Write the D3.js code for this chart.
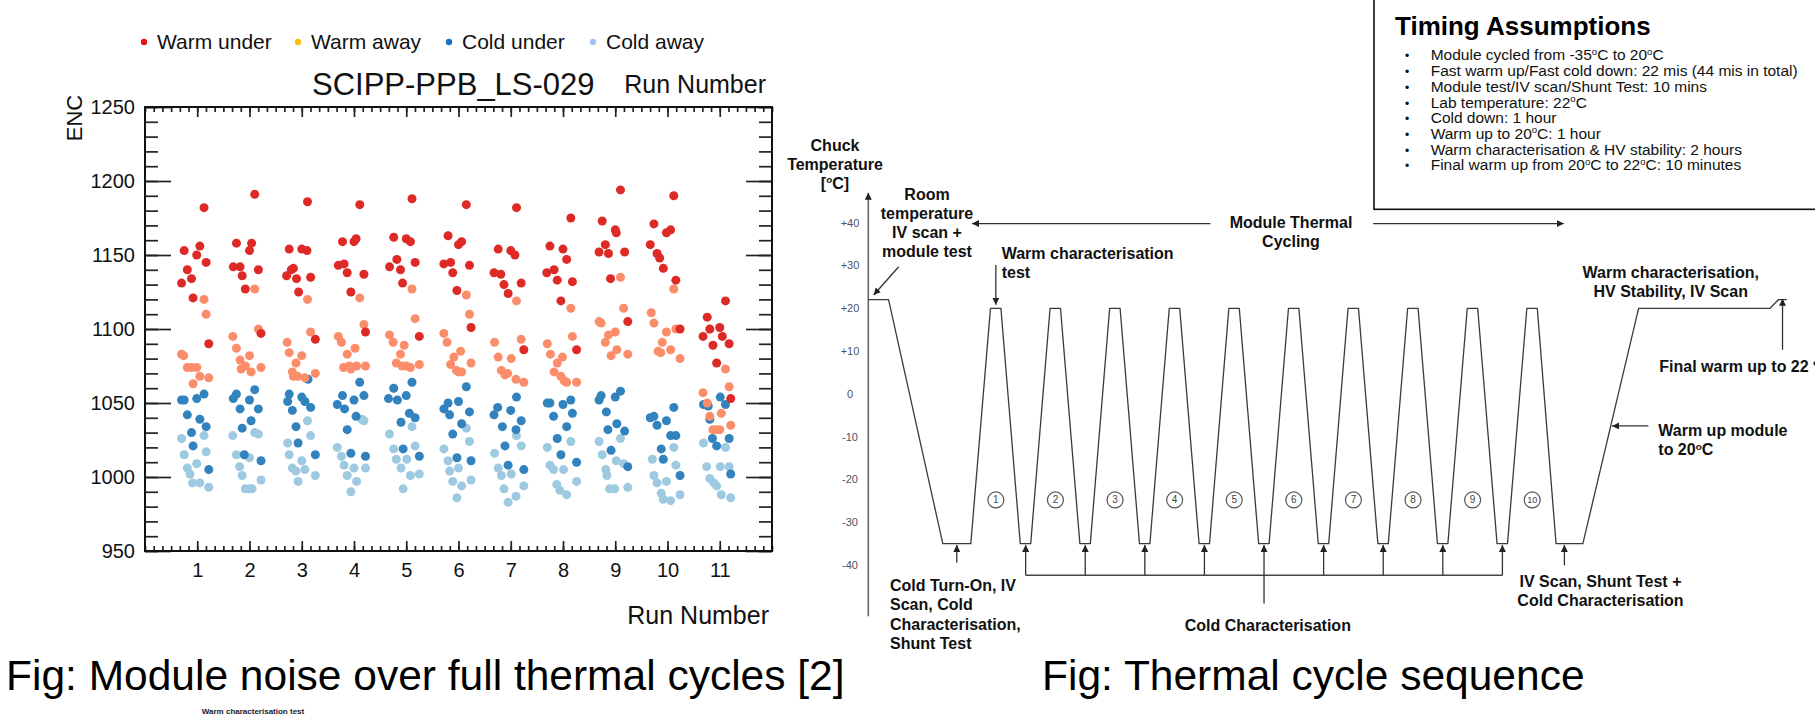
<!DOCTYPE html>
<html>
<head>
<meta charset="utf-8">
<title>module noise and thermal cycle</title>
<style>
  body { margin: 0; background: #fff; }
  svg { display: block; font-family: "Liberation Sans", Arial, sans-serif; }
</style>
</head>
<body>
<svg width="1815" height="718"></svg>
<script src="https://d3js.org/d3.v7.min.js"></script>
<script>

// ---------- left chart data : [run position, ENC] ----------
var warmUnder = [
  [0.70,1131],[0.75,1153],[0.81,1140],[0.89,1134],[0.92,1121],[0.99,1150],[1.05,1156],[1.13,1182],[1.17,1145],[1.22,1090],
  [1.69,1142],[1.75,1158],[1.82,1142],[1.86,1136],[1.92,1127],[2.00,1153],[2.04,1158],[2.10,1191],[2.17,1140],[2.22,1097],
  [2.71,1136],[2.76,1154],[2.80,1140],[2.84,1141],[2.90,1134],[2.94,1125],[3.00,1154],[3.10,1153],[3.11,1186],[3.17,1135],[3.26,1093],
  [3.70,1143],[3.78,1159],[3.81,1144],[3.87,1138],[3.94,1125],[4.00,1159],[4.04,1161],[4.11,1184],[4.19,1137],[4.22,1098],
  [4.68,1142],[4.76,1162],[4.82,1147],[4.89,1140],[4.93,1131],[5.00,1161],[5.08,1159],[5.11,1188],[5.17,1145],[5.25,1095],
  [5.72,1144],[5.80,1163],[5.85,1145],[5.89,1138],[5.97,1126],[6.00,1157],[6.06,1159],[6.15,1184],[6.21,1143],[6.24,1101],
  [6.68,1138],[6.76,1154],[6.81,1137],[6.87,1130],[6.95,1124],[7.00,1153],[7.08,1150],[7.11,1182],[7.20,1131],[7.25,1086],
  [7.69,1138],[7.75,1156],[7.83,1140],[7.89,1133],[7.96,1119],[8.00,1154],[8.07,1147],[8.15,1175],[8.18,1132],[8.26,1086],
  [8.69,1152],[8.75,1173],[8.81,1157],[8.87,1151],[8.91,1134],[9.00,1167],[9.02,1165],[9.10,1194],[9.18,1152],[9.24,1105],
  [9.67,1157],[9.74,1171],[9.80,1151],[9.85,1148],[9.92,1141],[9.98,1165],[10.06,1167],[10.12,1190],[10.16,1133],[10.24,1100],
  [10.68,1095],[10.76,1108],[10.81,1100],[10.87,1089],[10.94,1077],[11.00,1101],[11.05,1095],[11.11,1119],[11.18,1090],[11.21,1053]
];
var warmAway = [
  [0.70,1083],[0.74,1082],[0.81,1074],[0.89,1074],[0.92,1063],[0.99,1074],[1.05,1068],[1.13,1120],[1.17,1110],[1.22,1067],
  [1.68,1095],[1.75,1087],[1.82,1079],[1.84,1073],[1.92,1075],[2.00,1082],[2.03,1071],[2.10,1127],[2.17,1100],[2.22,1074],
  [2.72,1091],[2.76,1084],[2.82,1071],[2.84,1068],[2.89,1077],[2.92,1068],[3.00,1082],[3.06,1067],[3.11,1120],[3.17,1098],[3.26,1070],
  [3.70,1095],[3.76,1091],[3.80,1074],[3.87,1083],[3.91,1075],[3.94,1073],[4.02,1087],[4.05,1075],[4.11,1121],[4.19,1103],[4.22,1075],
  [4.68,1096],[4.75,1091],[4.81,1077],[4.89,1083],[4.92,1075],[4.96,1089],[5.00,1075],[5.08,1074],[5.11,1127],[5.17,1107],[5.25,1076],
  [5.72,1097],[5.78,1091],[5.85,1076],[5.91,1081],[5.96,1072],[6.00,1071],[6.04,1085],[6.06,1071],[6.15,1123],[6.21,1110],[6.24,1077],
  [6.69,1091],[6.76,1081],[6.82,1072],[6.89,1069],[6.94,1070],[7.01,1080],[7.10,1066],[7.11,1119],[7.20,1093],[7.25,1064],
  [7.70,1090],[7.76,1083],[7.83,1071],[7.89,1077],[7.96,1068],[7.99,1081],[8.02,1065],[8.07,1064],[8.15,1114],[8.18,1095],[8.26,1064],
  [8.69,1105],[8.73,1104],[8.81,1091],[8.87,1096],[8.92,1082],[9.00,1098],[9.03,1086],[9.10,1135],[9.16,1114],[9.24,1083],
  [9.69,1111],[9.74,1104],[9.82,1085],[9.87,1084],[9.90,1091],[9.98,1098],[10.06,1086],[10.12,1127],[10.16,1100],[10.24,1080],
  [10.68,1057],[10.76,1050],[10.81,1041],[10.87,1032],[10.94,1032],[11.00,1032],[11.03,1043],[11.11,1073],[11.18,1061],[11.21,1035]
];
var coldUnder = [
  [0.70,1052],[0.75,1052],[0.81,1042],[0.89,1030],[0.92,1021],[0.99,1053],[1.05,1039],[1.13,1056],[1.17,1034],[1.22,1005],
  [1.69,1053],[1.75,1056],[1.82,1046],[1.86,1033],[1.90,1015],[2.00,1052],[2.03,1038],[2.10,1059],[2.17,1046],[2.22,1011],
  [2.73,1051],[2.76,1056],[2.82,1045],[2.89,1034],[2.93,1023],[3.00,1054],[3.06,1051],[3.12,1066],[3.17,1047],[3.26,1015],
  [3.68,1049],[3.78,1055],[3.82,1046],[3.87,1032],[3.94,1016],[4.00,1052],[4.04,1041],[4.11,1064],[4.19,1055],[4.22,1014],
  [4.66,1053],[4.76,1060],[4.83,1052],[4.90,1037],[4.94,1019],[5.00,1055],[5.06,1043],[5.11,1064],[5.17,1040],[5.25,1014],
  [5.72,1046],[5.80,1050],[5.83,1042],[5.89,1029],[5.97,1013],[6.00,1051],[6.06,1036],[6.15,1061],[6.21,1044],[6.24,1011],
  [6.68,1042],[6.75,1047],[6.84,1034],[6.89,1021],[6.95,1008],[7.00,1045],[7.10,1032],[7.11,1054],[7.20,1038],[7.25,1005],
  [7.70,1050],[7.75,1050],[7.82,1041],[7.89,1026],[7.96,1015],[8.00,1049],[8.07,1034],[8.15,1052],[8.18,1043],[8.26,1010],
  [8.69,1052],[8.73,1055],[8.83,1044],[8.86,1032],[8.92,1018],[9.00,1054],[9.03,1036],[9.10,1058],[9.18,1031],[9.24,1007],
  [9.67,1040],[9.74,1041],[9.80,1035],[9.88,1019],[9.92,1012],[9.98,1038],[10.06,1028],[10.12,1047],[10.16,1028],[10.24,1001],
  [10.69,1049],[10.78,1048],[10.81,1039],[10.86,1026],[10.94,1021],[11.01,1054],[11.11,1049],[11.18,1026],[11.21,1002]
];
var coldAway = [
  [0.70,1026],[0.75,1015],[0.81,1006],[0.86,1002],[0.91,996],[0.99,1009],[1.05,996],[1.13,1028],[1.17,1017],[1.22,993],
  [1.68,1028],[1.75,1015],[1.81,1007],[1.86,1001],[1.92,992],[2.00,992],[2.05,992],[2.00,1013],[2.10,1030],[2.17,1029],[2.22,998],
  [2.73,1023],[2.76,1015],[2.82,1006],[2.89,1004],[2.93,997],[3.00,1011],[3.06,1005],[3.11,1038],[3.17,1028],[3.26,1001],
  [3.68,1020],[3.76,1014],[3.81,1008],[3.87,1001],[3.94,990],[4.00,1006],[4.05,997],[4.15,1039],[4.19,1038],[4.22,1006],
  [4.68,1029],[4.76,1019],[4.81,1012],[4.90,1006],[4.94,992],[5.01,1012],[5.08,1001],[5.11,1034],[5.17,1021],[5.25,1002],
  [5.72,1019],[5.80,1011],[5.83,1004],[5.89,997],[5.97,986],[6.00,1006],[6.06,994],[6.15,1033],[6.21,1024],[6.24,998],
  [6.69,1016],[6.76,1006],[6.82,1001],[6.87,992],[6.95,983],[7.01,1002],[7.10,987],[7.11,1028],[7.20,1021],[7.25,994],
  [7.70,1020],[7.75,1008],[7.82,1005],[7.88,995],[7.94,991],[8.01,1005],[8.07,988],[8.15,1024],[8.26,997],
  [8.69,1024],[8.75,1015],[8.82,1005],[8.84,1001],[8.89,992],[8.99,992],[9.02,1011],[9.10,1026],[9.16,1009],[9.24,993],
  [9.71,1012],[9.74,1001],[9.80,996],[9.88,989],[9.92,985],[9.98,997],[10.06,984],[10.12,1020],[10.16,1008],[10.24,988],
  [10.69,1023],[10.75,1007],[10.81,999],[10.89,996],[10.94,994],[11.01,1007],[11.03,988],[11.11,1020],[11.18,1007],[11.21,986]
];
var runTicks = [1, 2, 3, 4, 5, 6, 7, 8, 9, 10, 11];
var encTicks = [950, 1000, 1050, 1100, 1150, 1200, 1250];
var legendNames = ["Warm under", "Warm away", "Cold under", "Cold away"];

// ---------- right diagram data : time (arbitrary steps) vs chuck temperature ----------
var profileTime = [0, 3.4, 12.5, 17.2,
  20.5, 22.25, 25.5, 27.25,   30.5, 32.25, 35.5, 37.25,   40.5, 42.25, 45.5, 47.25,
  50.5, 52.25, 55.5, 57.25,   60.5, 62.25, 65.5, 67.25,   70.5, 72.25, 75.5, 77.25,
  80.5, 82.25, 85.5, 87.25,   90.5, 92.25, 95.5, 97.25,   100.5, 102.25, 105.5, 107.25,
  110.5, 112.25, 115.4, 119.9,
  129.25, 151.3, 152.7, 154.1];
var profileTemp = [22, 22, -35, -35,
  20, 20, -35, -35,   20, 20, -35, -35,   20, 20, -35, -35,
  20, 20, -35, -35,   20, 20, -35, -35,   20, 20, -35, -35,
  20, 20, -35, -35,   20, 20, -35, -35,   20, 20, -35, -35,
  20, 20, -35, -35,
  20, 20, 22, 22];
var cycleTime = [21.4, 31.4, 41.4, 51.4, 61.4, 71.4, 81.4, 91.4, 101.4, 111.4];
var cycleLabels = ["1", "2", "3", "4", "5", "6", "7", "8", "9", "10"];
var coldCharTime = [26.4, 36.4, 46.4, 56.4, 66.4, 76.4, 86.4, 96.4, 106.4];
var tempTicks = [40, 30, 20, 10, 0, -10, -20, -30, -40];
var tempTickLabels = ["+40", "+30", "+20", "+10", "0", "-10", "-20", "-30", "-40"];
var timingItems = [
  "Module cycled from -35°C to 20°C",
  "Fast warm up/Fast cold down: 22 mis (44 mis in total)",
  "Module test/IV scan/Shunt Test: 10 mins",
  "Lab temperature: 22°C",
  "Cold down: 1 hour",
  "Warm up to 20°C: 1 hour",
  "Warm characterisation & HV stability: 2 hours",
  "Final warm up from 20°C to 22°C: 10 minutes"
];

var svg = d3.select("svg");
svg.append("rect").attr("width", 1815).attr("height", 718).attr("fill", "#fff");

// text with a small raised "o" wherever the string has a degree sign
function rich(t, str, size) {
    var parts = str.split("°");
    t.append("tspan").text(parts[0]);
    for (var i = 1; i < parts.length; i++) {
        t.append("tspan").attr("font-size", size * 0.62).attr("dy", -size * 0.36).text("o");
        t.append("tspan").attr("dy", size * 0.36).text(parts[i]);
    }
    return t;
}

// ================= left : ENC scatter =================
var x = d3.scaleLinear().domain([0, 12]).range([145, 772]);
var y = d3.scaleLinear().domain([950, 1250]).range([551, 107]);

var left = svg.append("g");

function styleAxis(g) {
    g.select(".domain").remove();
    g.selectAll("line").attr("stroke", "#222").attr("stroke-width", 1.7);
    g.selectAll("text").attr("font-family", "'Liberation Sans', Arial, sans-serif")
        .attr("font-size", 20).attr("fill", "#111");
}

var minorX = d3.range(0, 12.001, 1 / 6), minorY = d3.range(950, 1250.1, 10);

left.append("g").attr("transform", "translate(0,551)")
    .call(d3.axisBottom(x).tickValues(minorX).tickSize(-5).tickFormat(""))
    .call(styleAxis);
left.append("g").attr("transform", "translate(0,551)")
    .call(d3.axisBottom(x).tickValues(runTicks).tickSize(-10).tickPadding(12).tickFormat(d3.format("d")))
    .call(styleAxis);
left.append("g").attr("transform", "translate(0,107)")
    .call(d3.axisTop(x).tickValues(minorX).tickSize(-5).tickFormat(""))
    .call(styleAxis);
left.append("g").attr("transform", "translate(0,107)")
    .call(d3.axisTop(x).tickValues(runTicks).tickSize(-10).tickFormat(""))
    .call(styleAxis);
left.append("g").attr("transform", "translate(145,0)")
    .call(d3.axisLeft(y).tickValues(minorY).tickSize(-13).tickFormat(""))
    .call(styleAxis);
left.append("g").attr("transform", "translate(145,0)")
    .call(d3.axisLeft(y).tickValues(encTicks).tickSize(-26).tickPadding(10).tickFormat(d3.format("d")))
    .call(styleAxis);
left.append("g").attr("transform", "translate(772,0)")
    .call(d3.axisRight(y).tickValues(minorY).tickSize(-13).tickFormat(""))
    .call(styleAxis);
left.append("g").attr("transform", "translate(772,0)")
    .call(d3.axisRight(y).tickValues(encTicks).tickSize(-26).tickFormat(""))
    .call(styleAxis);

left.append("rect").attr("x", 145).attr("y", 107).attr("width", 627).attr("height", 444)
    .attr("fill", "none").attr("stroke", "#111").attr("stroke-width", 2);

var series = [
    { data: coldAway, color: "#9ecae1" },
    { data: coldUnder, color: "#3182bd" },
    { data: warmAway, color: "#fc8d6a" },
    { data: warmUnder, color: "#de2a27" }
];
series.forEach(function (s) {
    left.append("g").selectAll("circle").data(s.data).enter().append("circle")
        .attr("cx", function (d) { return x(d[0]); })
        .attr("cy", function (d) { return y(d[1]); })
        .attr("r", 4.5)
        .attr("fill", s.color);
});

// legend
var legendColors = ["#e8141c", "#f9bd0d", "#1c6dc4", "#a3c5f3"];
var legendDotX = [144, 298, 449, 593];
legendNames.forEach(function (n, i) {
    left.append("circle").attr("cx", legendDotX[i]).attr("cy", 42).attr("r", 3.2).attr("fill", legendColors[i]);
    left.append("text").attr("x", legendDotX[i] + 13).attr("y", 49).attr("font-size", 21)
        .attr("fill", "#111").text(n);
});

left.append("text").attr("x", 312).attr("y", 95).attr("font-size", 31).attr("fill", "#111")
    .text("SCIPP-PPB_LS-029");
left.append("text").attr("x", 766).attr("y", 93).attr("text-anchor", "end").attr("font-size", 25)
    .attr("fill", "#111").text("Run Number");
left.append("text").attr("x", 769).attr("y", 624).attr("text-anchor", "end").attr("font-size", 25)
    .attr("fill", "#111").text("Run Number");
left.append("text").attr("transform", "translate(82,118) rotate(-90)").attr("text-anchor", "middle")
    .attr("font-size", 22).attr("fill", "#111").text("ENC");

// ================= right : thermal cycle sequence =================
var tx = d3.scaleLinear().domain([0, 154.1]).range([868.3, 1786.7]);
var ty = d3.scaleLinear().domain([-40, 40]).range([565, 222.7]);

var right = svg.append("g");
var defs = svg.append("defs");
defs.append("marker").attr("id", "arr").attr("viewBox", "0 0 10 10")
    .attr("refX", 10).attr("refY", 5).attr("markerWidth", 7).attr("markerHeight", 7)
    .attr("markerUnits", "userSpaceOnUse").attr("orient", "auto")
    .append("path").attr("d", "M0,0L10,5L0,10Z").attr("fill", "#222");

function arrow(t1, v1, t2, v2, head) {
    var l = right.append("line")
        .attr("x1", tx(t1)).attr("y1", ty(v1)).attr("x2", tx(t2)).attr("y2", ty(v2))
        .attr("stroke", "#333").attr("stroke-width", 1.3);
    if (head !== false) l.attr("marker-end", "url(#arr)");
    return l;
}

// temperature axis
right.append("line").attr("x1", tx(0)).attr("x2", tx(0)).attr("y1", ty(-52)).attr("y2", ty(47))
    .attr("stroke", "#666").attr("stroke-width", 1.6).attr("marker-end", "url(#arr)");
right.selectAll(".tlab").data(tempTicks).enter().append("text")
    .attr("x", 850).attr("y", function (d) { return ty(d) + 4; })
    .attr("text-anchor", "middle").attr("font-size", 11).attr("fill", "#4d5264")
    .text(function (d, i) { return tempTickLabels[i]; });

var prof = d3.line()
    .x(function (d) { return tx(d[0]); })
    .y(function (d) { return ty(d[1]); });
right.append("path")
    .datum(profileTime.map(function (t, i) { return [t, profileTemp[i]]; }))
    .attr("d", prof).attr("fill", "none").attr("stroke", "#3a3a3a").attr("stroke-width", 1.3)
    .attr("stroke-linejoin", "round");

// numbered cycles
cycleTime.forEach(function (t, i) {
    right.append("circle").attr("cx", tx(t)).attr("cy", ty(-24.8)).attr("r", 8)
        .attr("fill", "#fff").attr("stroke", "#555").attr("stroke-width", 1.2);
    right.append("text").attr("x", tx(t)).attr("y", ty(-24.8) + 3.5).attr("text-anchor", "middle")
        .attr("font-size", i === 9 ? 9 : 10).attr("fill", "#444").text(cycleLabels[i]);
});

// cold characterisation bracket
right.append("line").attr("x1", tx(coldCharTime[0])).attr("x2", tx(coldCharTime[8]))
    .attr("y1", ty(-42.4)).attr("y2", ty(-42.4)).attr("stroke", "#444").attr("stroke-width", 1.3);
coldCharTime.forEach(function (t) { arrow(t, -42.4, t, -35.3); });
arrow(66.4, -42.4, 66.4, -49, false);

arrow(14.85, -39.5, 14.85, -35.3);
arrow(116.8, -40.1, 116.8, -35.3);
arrow(5.1, 29.7, 0.9, 23.1);
arrow(21.4, 30.1, 21.4, 20.8);
arrow(57.4, 39.8, 17.4, 39.8);
arrow(84.7, 39.8, 116.7, 39.8);
arrow(153.4, 10.3, 153.4, 22.2);
arrow(130.9, -7.5, 124.8, -7.5);

function block(lines, xpos, y0, anchor) {
    lines.forEach(function (s, i) {
        var t = right.append("text").attr("x", xpos).attr("y", y0 + i * 19.3)
            .attr("text-anchor", anchor).attr("font-size", 16).attr("font-weight", "bold").attr("fill", "#111");
        rich(t, s, 16);
    });
}
block(["Chuck", "Temperature", "[°C]"], 835, 150.5, "middle");
block(["Room", "temperature", "IV scan +", "module test"], 927, 199.5, "middle");
block(["Module Thermal", "Cycling"], 1291, 228, "middle");
block(["Warm characterisation", "test"], 1001.7, 259, "start");
block(["Warm characterisation,", "HV Stability, IV Scan"], 1670.7, 278, "middle");
block(["Final warm up to 22 °C"], 1659.3, 372, "start");
block(["Warm up module", "to 20°C"], 1658.3, 436, "start");
block(["Cold Turn-On, IV", "Scan, Cold", "Characterisation,", "Shunt Test"], 890, 591, "start");
block(["Cold Characterisation"], 1267.8, 630.5, "middle");
block(["IV Scan, Shunt Test +", "Cold Characterisation"], 1600.5, 587, "middle");

// timing assumptions box
right.append("rect").attr("x", 1374).attr("y", -5).attr("width", 460).attr("height", 214.3)
    .attr("fill", "#fff").attr("stroke", "#111").attr("stroke-width", 1.6);
right.append("text").attr("x", 1395).attr("y", 35).attr("font-size", 26).attr("font-weight", "bold")
    .attr("fill", "#000").text("Timing Assumptions");
timingItems.forEach(function (s, i) {
    var yy = 60.4 + i * 15.72;
    right.append("text").attr("x", 1405).attr("y", yy).attr("font-size", 12).attr("fill", "#111").text("•");
    rich(right.append("text").attr("x", 1430.7).attr("y", yy).attr("font-size", 15.5).attr("fill", "#111"), s, 15.5);
});

// captions
svg.append("text").attr("x", 6).attr("y", 690).attr("font-size", 42.5).attr("fill", "#000")
    .text("Fig: Module noise over full thermal cycles [2]");
svg.append("text").attr("x", 1042).attr("y", 690).attr("font-size", 42.5).attr("fill", "#000")
    .text("Fig: Thermal cycle sequence");
svg.append("text").attr("x", 253).attr("y", 714).attr("text-anchor", "middle").attr("font-size", 8)
    .attr("font-weight", "bold").attr("fill", "#222").text("Warm characterisation  test");

</script>
</body>
</html>
